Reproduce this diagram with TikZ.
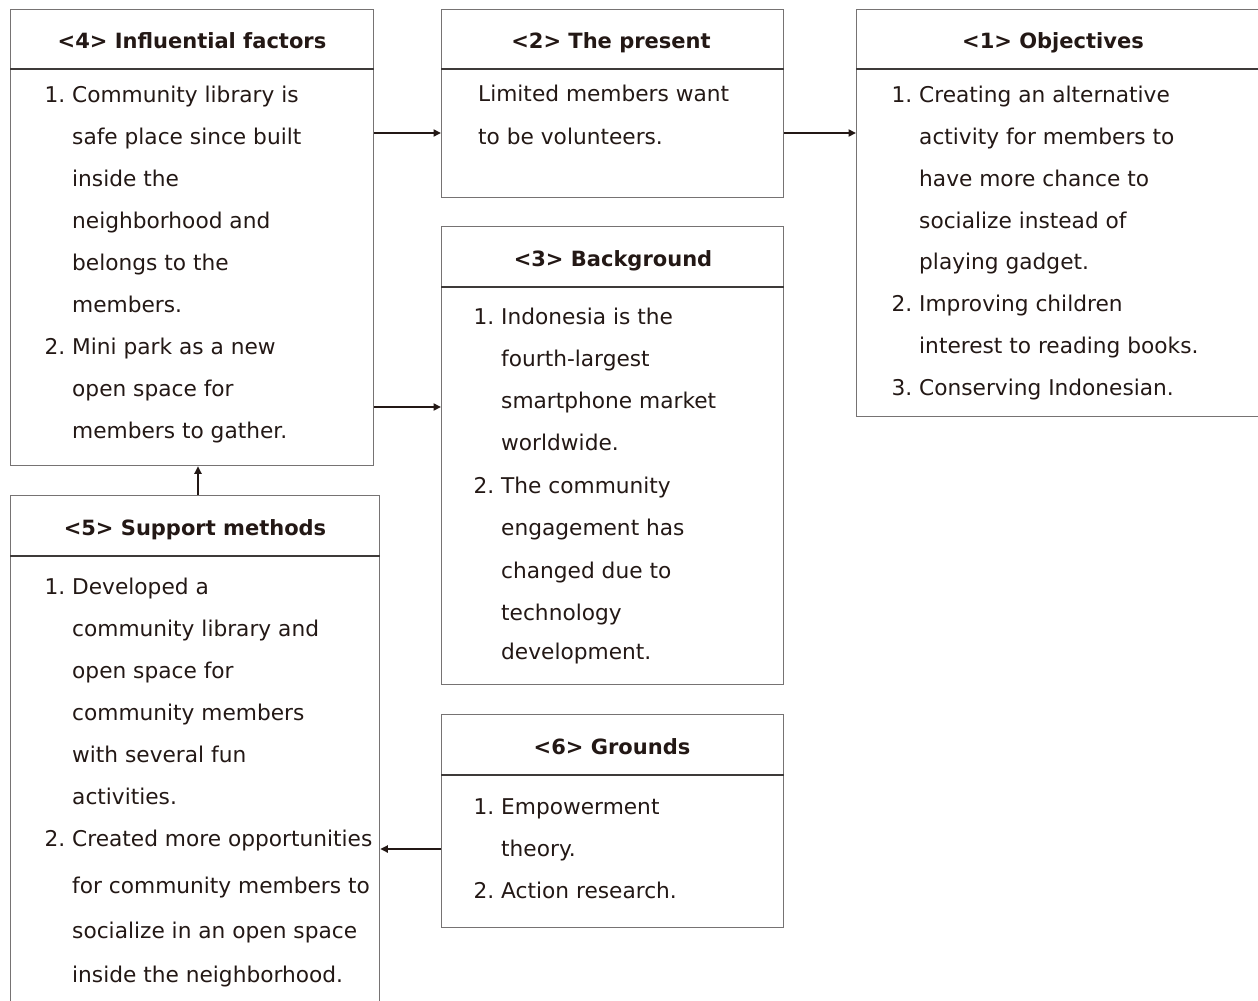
\documentclass[tikz,border=0pt]{standalone}
\usepackage{fontspec}
\setmainfont{DejaVu Sans}
\usetikzlibrary{arrows.meta}
\definecolor{ink}{HTML}{231815}
\definecolor{frame}{HTML}{767373}
\definecolor{rulecol}{HTML}{3E3A39}
\newcommand\itemno[1]{\makebox[0pt][r]{#1\ }}
\begin{document}
\begin{tikzpicture}[x=1pt,y=-1pt,
  panel/.style={draw=frame, line width=1.3pt, anchor=north west, inner sep=0pt},
  divider/.style={draw=rulecol, line width=1.3pt},
  head/.style={anchor=base, inner sep=0pt, text=ink, font=\fontsize{21}{25}\selectfont\bfseries},
  txt/.style={anchor=base west, inner sep=0pt, text=ink, font=\fontsize{21.7}{26}\selectfont},
  link/.style={draw=ink, line width=2.2pt, -{Triangle[length=7.5pt,width=7pt]}}
]
\useasboundingbox (0,0) rectangle (1258,1001);
\clip (0,0) rectangle (1258,1001);

% panels
\node[panel, minimum width=363pt, minimum height=456pt] (b4) at (10,9) {};
\node[panel, minimum width=342pt, minimum height=188pt] (b2) at (441,9) {};
\node[panel, minimum width=410pt, minimum height=407pt] (b1) at (856,9) {};
\node[panel, minimum width=342pt, minimum height=458pt] (b3) at (441,226) {};
\node[panel, minimum width=369pt, minimum height=530pt] (b5) at (10,495) {};
\node[panel, minimum width=342pt, minimum height=213pt] (b6) at (441,714) {};

% header rules
\foreach \b/\d in {b4/60, b2/60, b1/60, b3/61, b5/61, b6/61}
  \draw[divider] ([yshift=-\d pt]\b.north west) -- ([yshift=-\d pt]\b.north east);

% headings
\node[head] (h4) at (192,48) {<4> Influential factors};
\node[head] (h2) at (611,48) {<2> The present};
\node[head] (h1) at (1053,48) {<1> Objectives};
\node[head] (h3) at (613,266) {<3> Background};
\node[head] (h5) at (195,535) {<5> Support methods};
\node[head] (h6) at (612,754) {<6> Grounds};

% <4> Influential factors
\foreach \t/\y [count=\i] in {
  {\itemno{1.}Community library is}/102,
  {safe place since built}/144,
  {inside the}/186,
  {neighborhood and}/228,
  {belongs to the}/270,
  {members.}/312,
  {\itemno{2.}Mini park as a new}/354,
  {open space for}/396,
  {members to gather.}/438}
  \node[txt] (b4t\i) at (72,\y) {\t};

% <2> The present
\foreach \t/\y [count=\i] in {
  {Limited members want}/101,
  {to be volunteers.}/144}
  \node[txt] (b2t\i) at (478,\y) {\t};

% <1> Objectives
\foreach \t/\y [count=\i] in {
  {\itemno{1.}Creating an alternative}/102,
  {activity for members to}/144,
  {have more chance to}/186,
  {socialize instead of}/228,
  {playing gadget.}/269,
  {\itemno{2.}Improving children}/311,
  {interest to reading books.}/353,
  {\itemno{3.}Conserving Indonesian.}/395}
  \node[txt] (b1t\i) at (919,\y) {\t};

% <3> Background
\foreach \t/\y [count=\i] in {
  {\itemno{1.}Indonesia is the}/324,
  {fourth-largest}/366,
  {smartphone market}/408,
  {worldwide.}/450,
  {\itemno{2.}The community}/493,
  {engagement has}/535,
  {changed due to}/578,
  {technology}/620,
  {development.}/659}
  \node[txt] (b3t\i) at (501,\y) {\t};

% <5> Support methods
\foreach \t/\y [count=\i] in {
  {\itemno{1.}Developed a}/594,
  {community library and}/636,
  {open space for}/678,
  {community members}/720,
  {with several fun}/762,
  {activities.}/804,
  {\itemno{2.}Created more opportunities}/846,
  {for community members to}/893,
  {socialize in an open space}/938,
  {inside the neighborhood.}/982}
  \node[txt] (b5t\i) at (72,\y) {\t};

% <6> Grounds
\foreach \t/\y [count=\i] in {
  {\itemno{1.}Empowerment}/814,
  {theory.}/856,
  {\itemno{2.}Action research.}/898}
  \node[txt] (b6t\i) at (501,\y) {\t};

% connectors
\coordinate (r1) at (0,133);
\coordinate (r2) at (0,407);
\coordinate (r3) at (0,849);
\coordinate (c1) at (198,0);
\draw[link] (b4.east |- r1) -- (b2.west |- r1);
\draw[link] (b2.east |- r1) -- (b1.west |- r1);
\draw[link] (b4.east |- r2) -- (b3.west |- r2);
\draw[link] (b5.north -| c1) -- (b4.south -| c1);
\draw[link] (b6.west |- r3) -- (b5.east |- r3);
\end{tikzpicture}
\end{document}
